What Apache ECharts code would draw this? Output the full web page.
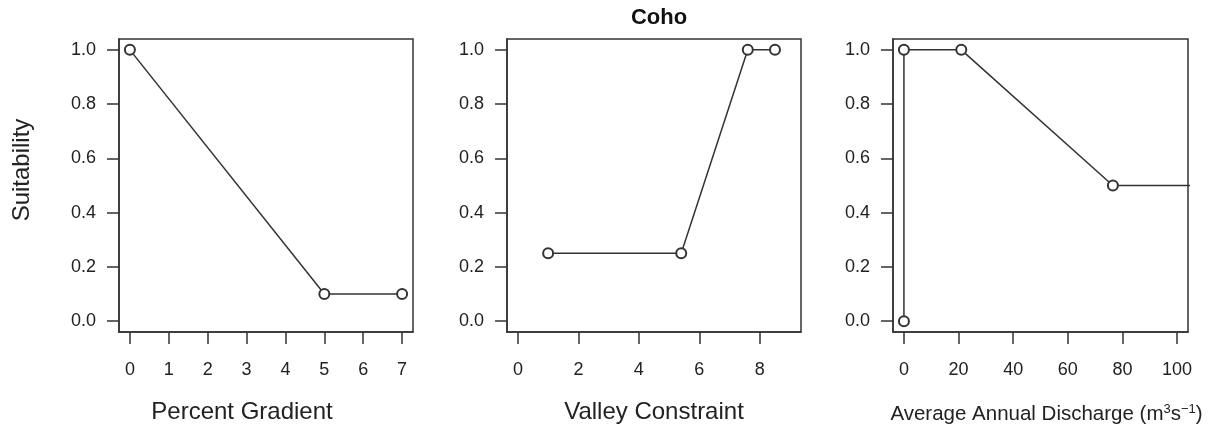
<!DOCTYPE html>
<html>
<head>
<meta charset="utf-8">
<title>Coho habitat suitability</title>
<script src="https://cdn.jsdelivr.net/npm/echarts@6/dist/echarts.min.js"></script>
<style>
  html, body { margin: 0; padding: 0; background: #fff; }
  #chart { width: 1216px; height: 432px; }
</style>
</head>
<body>
<div id="chart"></div>
<script>
// Suitability curves for coho, one panel per habitat variable
const speciesTitle = 'Coho';
const yTitle = 'Suitability';
const yTicks = [0, 0.2, 0.4, 0.6, 0.8, 1.0];

// Percent gradient
const gradientX = [0, 5, 7];
const gradientY = [1.0, 0.1, 0.1];
const gradientTicks = [0, 1, 2, 3, 4, 5, 6, 7];

// Valley constraint
const valleyX = [1, 5.4, 7.6, 8.5];
const valleyY = [0.25, 0.25, 1.0, 1.0];
const valleyTicks = [0, 2, 4, 6, 8];

// Average annual discharge; the last segment runs on past the axis end
const dischargeX = [0, 0, 21, 76.5];
const dischargeY = [0.0, 1.0, 1.0, 0.5];
const dischargeOpenEndX = 1000;
const dischargeOpenEndY = 0.5;
const dischargeTicks = [0, 20, 40, 60, 80, 100];

const ink = '#333';
const textInk = '#222';
const font = 'Liberation Sans, Arial, Helvetica, sans-serif';

const grids = [
  { left: 119, top: 39, width: 294, height: 293 },
  { left: 507, top: 39, width: 294, height: 293 },
  { left: 893, top: 39, width: 295, height: 293 }
].map(g => Object.assign({ show: true, borderColor: ink, borderWidth: 1.5, backgroundColor: 'transparent' }, g));

function xAxisFor(idx, min, max, ticks, name, nameStyle) {
  return {
    type: 'value', gridIndex: idx, min: min, max: max,
    splitLine: { show: false },
    axisLine: { show: true, onZero: false, lineStyle: { color: ink, width: 1.5 } },
    axisTick: { show: true, length: 12, customValues: ticks, lineStyle: { color: ink, width: 1.5 } },
    axisLabel: { customValues: ticks, margin: 29, fontSize: 18, color: textInk, fontFamily: font },
    name: name, nameLocation: 'middle', nameGap: nameStyle.gap,
    nameTextStyle: Object.assign({ color: textInk, fontFamily: font }, nameStyle.text)
  };
}

function yAxisFor(idx, withName) {
  const ax = {
    type: 'value', gridIndex: idx, min: -0.04, max: 1.04,
    splitLine: { show: false },
    axisLine: { show: true, onZero: false, lineStyle: { color: ink, width: 1.5 } },
    axisTick: { show: true, length: 12, customValues: yTicks, lineStyle: { color: ink, width: 1.5 } },
    axisLabel: {
      customValues: yTicks, margin: 23, fontSize: 18, color: textInk, fontFamily: font,
      formatter: v => v.toFixed(1)
    }
  };
  if (withName) {
    ax.name = yTitle;
    ax.nameLocation = 'middle';
    ax.nameGap = 85;
    ax.nameTextStyle = { fontSize: 24, color: textInk, fontFamily: font, padding: [0, 0, 0, 31] };
  }
  return ax;
}

function lineSeries(idx, data) {
  return {
    type: 'line', xAxisIndex: idx, yAxisIndex: idx, data: data,
    clip: true, symbol: 'emptyCircle', symbolSize: 10,
    lineStyle: { color: ink, width: 1.5 },
    itemStyle: { color: ink, borderColor: ink, borderWidth: 1.5 },
    emphasis: { disabled: true }, animation: false
  };
}

const zip = (xs, ys) => xs.map((x, i) => [x, ys[i]]);

const dischargeData = zip(dischargeX, dischargeY);
dischargeData.push({ value: [dischargeOpenEndX, dischargeOpenEndY], symbol: 'none' });

const option = {
  backgroundColor: '#fff',
  animation: false,
  title: {
    text: speciesTitle, left: 654, top: 2, textAlign: 'center',
    textStyle: { fontSize: 22, fontWeight: 'bold', color: '#111', fontFamily: font }
  },
  grid: grids,
  xAxis: [
    xAxisFor(0, -0.28, 7.28, gradientTicks, 'Percent Gradient',
      { gap: 68, text: { fontSize: 24, padding: [0, 48, 0, 0] } }),
    xAxisFor(1, -0.36, 9.36, valleyTicks, 'Valley Constraint',
      { gap: 68, text: { fontSize: 24 } }),
    xAxisFor(2, -4, 104, dischargeTicks, 'Average Annual Discharge (m{sup|3}s{sup|\u22121})',
      { gap: 71, text: { fontSize: 20.5, padding: [0, 0, 0, 12],
        rich: { sup: { fontSize: 13, verticalAlign: 'top', padding: [0, 0, 9, 0], color: textInk, fontFamily: font } } } })
  ],
  yAxis: [yAxisFor(0, true), yAxisFor(1, false), yAxisFor(2, false)],
  series: [
    lineSeries(0, zip(gradientX, gradientY)),
    lineSeries(1, zip(valleyX, valleyY)),
    lineSeries(2, dischargeData)
  ]
};

const chart = echarts.init(document.getElementById('chart'), null, { renderer: 'canvas' });
chart.setOption(option);
</script>
</body>
</html>
